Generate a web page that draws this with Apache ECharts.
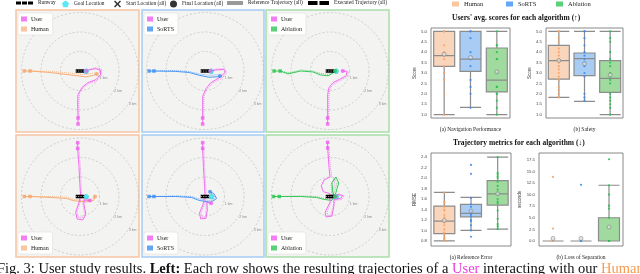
<!DOCTYPE html>
<html><head><meta charset="utf-8">
<script src="https://cdn.jsdelivr.net/npm/echarts@6/dist/echarts.min.js"></script>
<style>html,body{margin:0;padding:0;background:#fff}#c{width:640px;height:274px}</style>
</head><body><div id="c"></div>
<script>
// ---------------- DATA ----------------
const algorithms = ['Human', 'SoRTS', 'Ablation'];
const rangeRingLabels = ['', '1 km', '2 km', '3 km'];
const runwayPts = [[-0.22, 0], [0.22, 0]];
const goalPt = [[0.32, 0]];

// trajectories (units: ring spacing), panels 1-3 top row, 4-6 bottom row
const userExec = [
  [[-0.1,-2.72],[-0.1,-2.41],[-0.12,-1.6],[-0.1,-1.2],[0.1,-0.85],[0.4,-0.6],[0.8,-0.45],[1.05,-0.2],[1.05,0.05],[0.8,0.12],[0.45,0.05],[0.32,0]],
  [[-0.12,-2.72],[-0.12,-2.41],[-0.12,-1.3],[0.05,-0.9],[0.3,-0.6],[0.8,-0.3],[1.05,-0.05],[0.95,0.08],[0.55,0.05],[0.28,0]],
  [[-0.12,-2.72],[-0.12,-2.41],[-0.12,-1.2],[-0.05,-0.85],[0.15,-0.6],[0.5,-0.42],[0.82,-0.25],[0.88,-0.05],[0.65,0]],
  [[-0.12,2.76],[-0.12,2.47],[-0.05,1.5],[0.0,0.5],[0.03,0.05],[-0.05,-0.3],[-0.22,-0.8],[-0.15,-1.15],[0.15,-1.2],[0.3,-0.9],[0.2,-0.4],[0.22,-0.18],[0.51,-0.21]],
  [[-0.12,2.76],[-0.12,2.47],[-0.08,1.5],[-0.02,0.5],[0.0,0.05],[-0.1,-0.4],[-0.28,-0.85],[-0.22,-1.15],[0.05,-1.12],[0.12,-0.7],[0.1,-0.3],[0.31,-0.35]],
  [[-0.12,2.78],[-0.12,2.49],[-0.05,1.5],[0.0,1.0],[-0.3,0.85],[-0.45,0.55],[-0.35,0.25],[0.0,0.15],[0.0,-0.3],[-0.25,-0.8],[-0.2,-1.05],[0.1,-1.0],[0.2,-0.5],[0.2,-0.15],[0.55,-0.1],[0.65,0.05],[0.4,0.1],[0.3,0]]
];
const userRef = [
  [[-0.05,-2.41],[-0.06,-1.6],[-0.03,-1.15],[0.2,-0.82],[0.5,-0.62],[0.85,-0.5],[1.12,-0.22],[1.1,0.1],[0.8,0.17],[0.45,0.08],[0.3,0]],
  [[-0.07,-2.41],[-0.06,-1.3],[0.1,-0.95],[0.4,-0.62],[0.85,-0.38],[1.12,-0.08],[1.0,0.12],[0.55,0.1],[0.3,0]],
  [[-0.07,-2.41],[-0.05,-1.2],[0.02,-0.85],[0.25,-0.62],[0.55,-0.48],[0.88,-0.3],[0.95,-0.05],[0.8,0.05],[0.6,0.02]],
  [[-0.06,2.47],[0.02,1.5],[0.06,0.5],[0.08,0.05],[0.0,-0.3],[-0.15,-0.8],[-0.08,-1.08],[0.12,-1.1],[0.24,-0.88],[0.15,-0.4],[0.18,-0.12],[0.45,-0.15]],
  [[-0.06,2.47],[-0.02,1.5],[0.04,0.5],[0.06,0.05],[-0.03,-0.4],[-0.2,-0.85],[-0.15,-1.08],[0.02,-1.05],[0.06,-0.7],[0.05,-0.28],[0.25,-0.3]],
  [[-0.06,2.49],[0.02,1.5],[0.08,1.05],[0.2,0.95],[0.25,0.6],[0.1,0.3],[0.05,-0.3],[-0.15,-0.8],[-0.1,-0.98],[0.05,-0.95],[0.15,-0.5],[0.28,-0.2],[0.6,-0.15],[0.72,0.02],[0.45,0.15],[0.3,0.02]]
];
const algoExec = [
  [[-2.86,0],[-2.56,0],[-1.5,-0.08],[-0.5,-0.2],[0.3,-0.3],[0.7,-0.22],[0.86,-0.15]],
  [[-2.87,0],[-2.62,0],[-1.5,-0.02],[-0.8,-0.08],[-0.3,-0.22],[0.2,-0.32],[0.6,-0.3],[0.77,-0.26]],
  [[-2.87,0],[-2.56,0],[-2.15,-0.15],[-1.5,0],[-0.87,-0.05],[-0.5,-0.2],[-0.1,-0.25],[0.15,-0.1],[0.26,0]],
  [[-2.86,0],[-2.56,0],[-1.5,-0.05],[-0.7,-0.1],[-0.3,-0.22],[0.3,-0.28],[0.7,-0.2],[0.77,0]],
  [[-2.87,0],[-2.62,0],[-1.5,0],[-0.7,-0.05],[-0.3,-0.2],[0.3,-0.3],[0.6,-0.1],[0.45,0.15],[0.26,0.25]],
  [[-2.9,0],[-2.6,0],[-1.5,0],[-0.7,-0.05],[-0.3,-0.15],[0.1,-0.2],[0.3,0.2],[0.45,0.7],[0.3,1.0],[0.1,0.7],[0.15,0.2],[0.25,0]]
];
const algoRef = [
  [[-2.56,0],[-1.5,-0.02],[-0.6,-0.1],[0.2,-0.18],[0.6,-0.12],[0.8,-0.1]],
  [[-2.62,0],[-1.5,0.02],[-0.8,-0.03],[-0.3,-0.15],[0.2,-0.22],[0.6,-0.2],[0.75,-0.2]],
  [[-2.56,0],[-2.1,-0.1],[-1.5,0.05],[-0.9,0],[-0.5,-0.12],[-0.1,-0.18],[0.2,-0.05],[0.26,0]],
  [[-2.56,0],[-1.5,0],[-0.7,-0.03],[-0.3,-0.15],[0.3,-0.2],[0.65,-0.12],[0.72,0.02]],
  [[-2.62,0],[-1.5,0.03],[-0.7,0],[-0.3,-0.12],[0.3,-0.22],[0.52,-0.08],[0.4,0.12],[0.26,0.18]],
  [[-2.6,0],[-1.5,0.03],[-0.7,0],[-0.3,-0.1],[0.05,-0.12],[0.22,0.25],[0.38,0.75],[0.2,0.92],[0.05,0.6],[0.12,0.15],[0.25,0]]
];

// box plots: [min, Q1, median, Q3, max]
const navBox = [[1.0,3.32,3.83,5.0,5.0],[1.35,3.08,3.67,5.0,5.0],[1.0,2.09,2.66,4.2,5.0]];
const navMean = [3.9, 3.74, 3.05];
const navPts = [
  [5.0,5.0,5.0,4.33,4.0,3.83,3.67,3.33,3.0,2.67,2.0,1.0],
  [5.0,5.0,4.67,4.0,3.67,3.67,3.33,2.67,2.33,2.0,1.33],
  [5.0,4.33,4.33,4.0,3.67,3.67,3.0,2.33,2.33,2.0,2.0,1.67,1.33,1.0]
];
const safetyBox = [[1.83,2.71,3.59,4.33,5.0],[1.64,2.87,3.69,3.96,5.0],[1.0,2.07,2.74,3.59,5.0]];
const safetyMean = [3.6, 3.45, 2.9];
const safetyPts = [
  [5.0,5.0,4.67,4.5,4.17,4.0,3.83,3.67,3.5,3.33,3.17,3.0,2.83,2.67,2.33,2.17,2.0,1.83],
  [5.0,5.0,4.67,4.33,4.0,3.83,3.67,3.5,3.33,3.0,2.83,2.0,1.83,1.67],
  [5.0,4.67,4.5,4.0,3.67,3.5,3.33,3.0,2.83,2.67,2.5,2.0,1.83,1.67,1.5,1.33,1.0]
];
const refErrBox = [[0.8,0.94,1.178,1.466,1.728],[1.0,1.26,1.325,1.498,1.632],[1.024,1.485,1.696,1.952,2.4]];
const refErrMean = [1.19, 1.37, 1.70];
const refErrPts = [
  [1.72,1.55,1.52,1.45,1.40,1.38,1.30,1.25,1.20,1.18,1.15,1.10,1.02,0.96,0.93,0.88,0.85,0.83,0.8],
  [2.25,2.08,1.62,1.50,1.45,1.38,1.36,1.33,1.30,1.27,1.20,1.18,1.10,1.0,0.88],
  [2.4,2.1,2.07,2.03,2.0,1.93,1.85,1.78,1.72,1.70,1.68,1.60,1.55,1.52,1.38,1.22,1.12,1.08,1.03]
];
const lossBox = [[0,0,0,0,0],[0,0,0,0,0],[0,0,0,5.0,12.0]];
const lossMean = [0.55, 0.55, 3.0];
const lossPts = [
  [13.8,2.67,0,0,0,0,0,0],
  [12.1,0,0,0,0,0,0],
  [17.6,12.0,10.0,7.6,7.0,5.0,0,0,0,0]
];
const scoreTicks = [1.0,1.5,2.0,2.5,3.0,3.5,4.0,4.5,5.0];
const refErrTicks = [0.8,1.0,1.2,1.4,1.6,1.8,2.0,2.2,2.4];
const lossTicks = [0,2.5,5,7.5,10,12.5,15,17.5];

// ---------------- STYLE / LAYOUT ----------------
const SERIF = "'Liberation Serif','DejaVu Serif',serif";
const userColor = '#f35cf0';
const algoColors = ['#f7a366', '#3b8cf2', '#27c34b'];
const legendColors = ['#f9b886', '#3d8ef3', '#2dc756'];
const boxFill = ['#f8d5bb', '#a8ccf3', '#a0da9f'];
const frameColors = ['#f8c3a4', '#a5ccf3', '#a9dea9'];
const U = 19.5;
const panels = [
  {box:[16,10,123,122], c:[80,71]},
  {box:[142,10,122,122], c:[205,71]},
  {box:[266,10,123,122], c:[330,71]},
  {box:[16,135,123,122], c:[80,196.5]},
  {box:[142,135,122,122], c:[205,196.5]},
  {box:[266,135,123,122], c:[330,196.5]}
];
const pentagon = 'path://M0,-1 L0.95,-0.31 L0.59,0.81 L-0.59,0.81 L-0.95,-0.31 Z';
const crossIcon = 'path://M0,1.5 L1.5,0 L5,3.5 L8.5,0 L10,1.5 L6.5,5 L10,8.5 L8.5,10 L5,6.5 L1.5,10 L0,8.5 L3.5,5 Z';
const runwayIcon = 'path://M0,0 H5 V3 H0 Z M6,0 H11 V3 H6 Z M12,0 H17 V3 H12 Z';
const execIcon = 'path://M0,0 H10 V4 H0 Z M12,0 H22 V4 H12 Z';

const grid = [], xAxis = [], yAxis = [], polar = [], angleAxis = [], radiusAxis = [], series = [], legend = [];

panels.forEach((p, i) => {
  const [l, t, w, h] = p.box, [cx, cy] = p.c, a = i % 3;
  grid.push({left:l, top:t, width:w, height:h, show:true, backgroundColor:'#f3f3f2', borderColor:frameColors[a], borderWidth:1.5, z:0});
  xAxis.push({type:'value', gridIndex:i, min:(l-cx)/U, max:(l+w-cx)/U, show:false});
  yAxis.push({type:'value', gridIndex:i, min:(cy-t-h)/U, max:(cy-t)/U, show:false});
  polar.push({center:[cx, cy], radius:3*U});
  angleAxis.push({polarIndex:i, show:false, startAngle:-42, min:0, max:360});
  radiusAxis.push({polarIndex:i, min:0, max:3, interval:1, z:1,
    axisLine:{show:false}, axisTick:{show:false},
    splitLine:{show:true, lineStyle:{color:'#bdbdbd', width:0.7, type:[2,2]}},
    axisLabel:{show:true, fontSize:3.5, color:'#888', formatter:(v)=>rangeRingLabels[v] || ''}});
  const ax = {xAxisIndex:i, yAxisIndex:i};
  const ln = (name, data, color, width, type, z) => Object.assign({type:'line', name, data, symbol:'none', silent:true, z,
    lineStyle:{color, width, type}, itemStyle:{color}}, ax);
  series.push(ln('Reference Trajectory (all)', algoRef[i], algoColors[a], 0.7, [1,1], 3));
  series.push(ln('Reference Trajectory (all)', userRef[i], userColor, 0.7, [1,1], 3));
  series.push(ln('Executed Trajectory (all)', algoExec[i], algoColors[a], 0.9, 'solid', 4));
  series.push(ln('Executed Trajectory (all)', userExec[i], userColor, 0.9, 'solid', 4));
  series.push(ln('Runway', runwayPts, '#000', 3.6, 'solid', 5));
  series.push(ln('Runway', runwayPts, '#fff', 0.6, [1.2,1.2], 6));
  series.push(Object.assign({type:'scatter', name:'Goal Location', data:goalPt, symbol:pentagon, symbolSize:5, z:7,
    itemStyle:{color:'#2fe3f3', borderColor:'#0aa6b8', borderWidth:0.4}}, ax));
  const starts = [];
  [userExec[i], algoExec[i]].forEach((tr, k) => {
    const col = k === 0 ? userColor : algoColors[a];
    starts.push({value:tr[0], itemStyle:{color:col}});
    starts.push({value:tr[1], itemStyle:{color:col}});
  });
  series.push(Object.assign({type:'scatter', name:'Start Location (all)', data:starts, symbol:'rect', symbolSize:3.5, z:7, itemStyle:{color:'#000'}}, ax));
  const finals = [
    {value:userExec[i][userExec[i].length-1], itemStyle:{color:userColor}},
    {value:algoExec[i][algoExec[i].length-1], itemStyle:{color:algoColors[a]}}
  ];
  series.push(Object.assign({type:'scatter', name:'Final Location (all)', data:finals, symbol:'circle', symbolSize:4, z:7, itemStyle:{color:'#000'}}, ax));
  legend.push({left:l+2, top: i < 3 ? t+3 : t+97, orient:'vertical', padding:[3,4,3,3], itemWidth:6, itemHeight:5, itemGap:4,
    backgroundColor:'rgba(255,255,255,0.85)', borderColor:'#d8d8d8', borderWidth:0.5, borderRadius:2,
    textStyle:{fontSize:6, fontFamily:SERIF, color:'#222', padding:[0,0,0,-1]}, selectedMode:false,
    data:[{name:'User', icon:'rect'}, {name:algorithms[a], icon:'rect'}]});
});

// legend-only series
series.push({type:'scatter', name:'User', data:[], itemStyle:{color:userColor}});
algorithms.forEach((n, k) => series.push({type:'scatter', name:n, data:[], itemStyle:{color:legendColors[k]}}));

// top-left legend
const topLeg = (left, name, icon, w, h, color) => ({left, top:0.5, padding:0, itemWidth:w, itemHeight:h, selectedMode:false,
  textStyle:{fontSize:5.3, fontFamily:SERIF, color:'#222'},
  data:[{name, icon, itemStyle:{color, borderWidth:0}}]});
legend.push(topLeg(16, 'Runway', runwayIcon, 17, 4, '#000'));
legend.push(topLeg(62, 'Goal Location', pentagon, 7, 7, '#2fe3f3'));
legend.push(topLeg(114, 'Start Location (all)', crossIcon, 7, 7, '#000'));
legend.push(topLeg(170, 'Final Location (all)', 'circle', 7, 7, '#000'));
legend.push(topLeg(227, 'Reference Trajectory (all)', 'rect', 16, 4, '#9a9a9a'));
legend.push(topLeg(308, 'Executed Trajectory (all)', execIcon, 21, 4, '#000'));
// top-right legend
[452, 506, 556].forEach((left, k) => legend.push({left, top:0.5, padding:0, itemWidth:7, itemHeight:5, selectedMode:false,
  textStyle:{fontSize:6.5, fontFamily:SERIF, color:'#222'}, data:[{name:algorithms[k], icon:'rect'}]}));

// box plot panels
const boxPanels = [
  {box:[431,28,79,90], lo:0.84, hi:5.16, ticks:scoreTicks, name:'Score', xname:'(a) Navigation Performance', b:navBox, m:navMean, p:navPts},
  {box:[546,28,77,90], lo:0.84, hi:5.16, ticks:scoreTicks, name:'Score', xname:'(b) Safety', b:safetyBox, m:safetyMean, p:safetyPts},
  {box:[431,153,80,93], lo:0.704, hi:2.477, ticks:refErrTicks, name:'RMSE', xname:'(a) Reference Error', b:refErrBox, m:refErrMean, p:refErrPts},
  {box:[539,153,84,93], lo:-1.08, hi:18.95, ticks:lossTicks, name:'seconds', xname:'(b) Loss of Separation', b:lossBox, m:lossMean, p:lossPts}
];
boxPanels.forEach((bp, j) => {
  const gi = 6 + j, [l, t, w, h] = bp.box;
  grid.push({left:l, top:t, width:w, height:h, show:true, borderColor:'#7a7a7a', borderWidth:0.9, z:0});
  xAxis.push({type:'category', gridIndex:gi, data:algorithms, axisLine:{show:false}, axisTick:{show:false}, axisLabel:{show:false},
    name:bp.xname, nameLocation:'middle', nameGap:9, nameTextStyle:{fontSize:5.5, fontFamily:SERIF, color:'#222'}});
  yAxis.push({type:'value', gridIndex:gi, min:bp.lo, max:bp.hi, splitLine:{show:false}, axisLine:{show:false}, axisTick:{show:false},
    axisLabel:{fontSize:4.3, color:'#444', margin:4, customValues:bp.ticks, formatter:(v)=>v.toFixed(1)},
    name:bp.name, nameLocation:'middle', nameGap:14, nameTextStyle:{fontSize:4.5, color:'#333'}});
  const ax = {xAxisIndex:gi, yAxisIndex:gi};
  series.push(Object.assign({type:'boxplot', silent:true, boxWidth:[21,21], z:2,
    data:bp.b.map((v, k) => ({value:v, itemStyle:{color:boxFill[k]}})),
    itemStyle:{borderColor:'#8c8c8c', borderWidth:1.2}}, ax));
  bp.p.forEach((vals, k) => series.push(Object.assign({type:'scatter', silent:true, z:3, symbolSize:2.2,
    data:vals.map(v => [k, v]), itemStyle:{color:algoColors[k], opacity:0.9}}, ax)));
  series.push(Object.assign({type:'scatter', silent:true, z:4, symbol:'circle', symbolSize:4,
    data:bp.m.map((v, k) => [k, v]), itemStyle:{color:'rgba(225,225,225,0.9)', borderColor:'#7a7a7a', borderWidth:0.7}}, ax));
});

const CAP = 14.5;
const title = [
  {text:"Users' avg. scores for each algorithm (\u2191)", left:452, top:14, padding:0,
    textStyle:{fontSize:7.5, fontWeight:'bold', fontFamily:SERIF, color:'#111'}},
  {text:'Trajectory metrics for each algorithm (\u2193)', left:453, top:139, padding:0,
    textStyle:{fontSize:7.5, fontWeight:'bold', fontFamily:SERIF, color:'#111'}},
  {text:'{n|Fig. 3: User study results. }{b|Left:}{n| Each row shows the resulting trajectories of a }{u|User}{n| interacting with our }{h|Human}{n| a}',
    left:-3, top:262, padding:0,
    textStyle:{fontWeight:'normal', rich:{
      n:{fontSize:CAP, fontFamily:SERIF, color:'#111', fontWeight:'normal'},
      b:{fontSize:CAP, fontFamily:SERIF, color:'#111', fontWeight:'bold'},
      u:{fontSize:CAP, fontFamily:SERIF, color:'#e83ee0', fontWeight:'normal'},
      h:{fontSize:CAP, fontFamily:SERIF, color:'#f59a52', fontWeight:'normal'}}}}
];

const chart = echarts.init(document.getElementById('c'), null, {renderer:'canvas'});
chart.setOption({animation:false, backgroundColor:'#fff', title, legend, grid, xAxis, yAxis, polar, angleAxis, radiusAxis, series});
</script></body></html>
